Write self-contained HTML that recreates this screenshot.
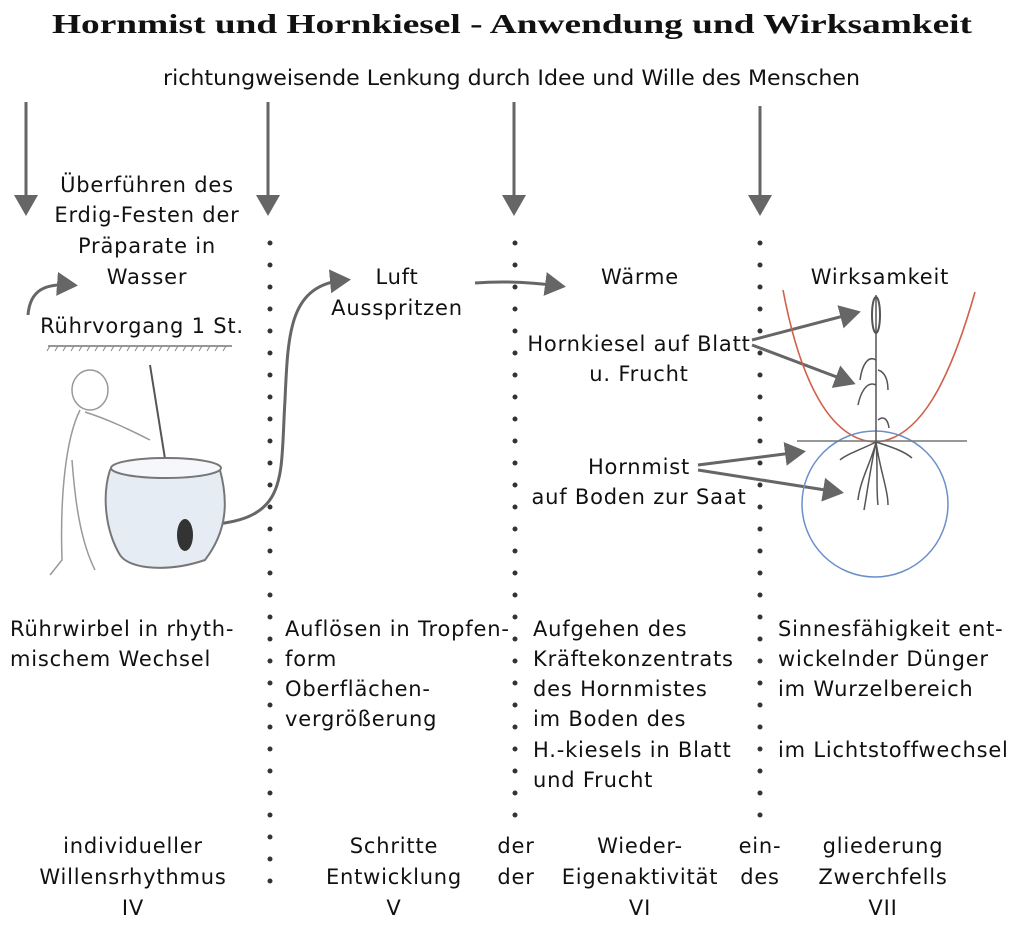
<!DOCTYPE html>
<html><head><meta charset="utf-8"><style>
body{margin:0;background:#fff}
svg{display:block}
text{font-family:"DejaVu Sans","Liberation Sans",sans-serif;font-size:21px;fill:#111;letter-spacing:0.8px}
.t{font-family:"Liberation Serif",serif;font-weight:bold;font-size:27px;letter-spacing:0}
</style></head><body>
<svg width="1018" height="952" viewBox="0 0 1018 952" xmlns="http://www.w3.org/2000/svg">
<defs>
<marker id="ah" markerWidth="8" markerHeight="8" refX="5" refY="4" orient="auto" markerUnits="strokeWidth">
<path d="M0,0 L7,4 L0,8 Z" fill="#666"/></marker>
</defs>
<text class="t" x="52" y="33" textLength="920" lengthAdjust="spacingAndGlyphs">Hornmist und Hornkiesel - Anwendung und Wirksamkeit</text>
<text x="163" y="85" textLength="697" lengthAdjust="spacingAndGlyphs" style="letter-spacing:0">richtungweisende Lenkung durch Idee und Wille des Menschen</text>
<g stroke="#666" stroke-width="3" fill="none" marker-end="url(#ah)">
<line x1="26" y1="102" x2="26" y2="210"/>
<line x1="268" y1="102" x2="268" y2="210"/>
<line x1="514" y1="102" x2="514" y2="210"/>
<line x1="760" y1="106" x2="760" y2="210"/>
<path d="M28,315 C30,290 45,283 72,285"/>
<path d="M205,525 C290,520 280,480 285,400 C288,330 290,285 345,280"/>
<path d="M475,283 C500,281 530,282 560,286"/>
<line x1="752" y1="340" x2="855" y2="313"/>
<line x1="752" y1="345" x2="850" y2="382"/>
<line x1="698" y1="465" x2="800" y2="452"/>
<line x1="698" y1="470" x2="838" y2="492"/>
</g>
<g stroke="#333" stroke-width="5" stroke-linecap="round" stroke-dasharray="0 22">
<line x1="270" y1="243" x2="270" y2="885"/>
<line x1="515" y1="243" x2="515" y2="820"/>
<line x1="760" y1="243" x2="760" y2="820"/>
</g>
<g text-anchor="middle">
<text x="147" y="192">Überführen des</text>
<text x="147" y="222">Erdig-Festen der</text>
<text x="147" y="253">Präparate in</text>
<text x="147" y="284">Wasser</text>
<text x="142" y="333">Rührvorgang 1 St.</text>
<text x="397" y="284">Luft</text>
<text x="397" y="315">Ausspritzen</text>
<text x="640" y="284">Wärme</text>
<text x="880" y="284">Wirksamkeit</text>
<text x="639" y="351">Hornkiesel auf Blatt</text>
<text x="639" y="381">u. Frucht</text>
<text x="639" y="474">Hornmist</text>
<text x="639" y="504">auf Boden zur Saat</text>
</g>
<line x1="48" y1="346" x2="232" y2="346" stroke="#777" stroke-width="1.5"/>
<path d="M50,346 l-3,5 M58,346 l-3,5 M66,346 l-3,5 M74,346 l-3,5 M82,346 l-3,5 M90,346 l-3,5 M98,346 l-3,5 M106,346 l-3,5 M114,346 l-3,5 M122,346 l-3,5 M130,346 l-3,5 M138,346 l-3,5 M146,346 l-3,5 M154,346 l-3,5 M162,346 l-3,5 M170,346 l-3,5 M178,346 l-3,5 M186,346 l-3,5 M194,346 l-3,5 M202,346 l-3,5 M210,346 l-3,5 M218,346 l-3,5 M226,346 l-3,5" stroke="#888" stroke-width="1"/>
<g stroke="#999" fill="none" stroke-width="1.5">
<ellipse cx="90" cy="390" rx="18" ry="20"/>
<path d="M80,410 C65,440 60,500 62,560 L50,575 M85,412 C110,420 130,430 150,440 M72,460 C75,500 80,540 95,570"/>
<line x1="150" y1="365" x2="178" y2="540" stroke="#555" stroke-width="2"/>
</g>
<path d="M110,470 C115,460 215,460 220,470 C228,500 228,530 205,560 C170,572 130,570 120,555 C105,530 102,495 110,470 Z" fill="#e6ecf4" stroke="#777" stroke-width="2"/>
<ellipse cx="166" cy="468" rx="55" ry="10" fill="#f5f7fa" stroke="#777" stroke-width="2"/>
<ellipse cx="185" cy="535" rx="8" ry="16" fill="#333"/>
<path d="M783,290 C800,380 830,440 875,442 C920,440 950,380 975,292" fill="none" stroke="#d0604a" stroke-width="1.6"/>
<circle cx="875" cy="504" r="73" fill="none" stroke="#6b8fc8" stroke-width="1.5"/>
<line x1="797" y1="441" x2="967" y2="441" stroke="#777" stroke-width="1.5"/>
<g stroke="#555" fill="none" stroke-width="1.5">
<line x1="876" y1="295" x2="876" y2="442"/>
<ellipse cx="876" cy="315" rx="4" ry="18" stroke-width="2"/>
<path d="M876,360 C868,355 862,365 860,380 M876,385 C866,380 860,395 858,405 M878,370 C885,372 888,380 888,390 M878,420 C884,415 888,420 889,428"/>
<path d="M876,442 C870,470 866,500 864,510 M876,442 C880,470 888,490 888,505 M876,442 C872,460 860,480 858,500 M876,442 C878,465 876,490 878,505 M876,442 C860,450 845,455 840,460 M876,442 C895,448 905,452 912,458"/>
</g>
<g>
<text x="10" y="636">Rührwirbel in rhyth-</text>
<text x="10" y="666">mischem Wechsel</text>
<text x="285" y="636">Auflösen in Tropfen-</text>
<text x="285" y="666">form</text>
<text x="285" y="696">Oberflächen-</text>
<text x="285" y="726">vergrößerung</text>
<text x="533" y="636">Aufgehen des</text>
<text x="533" y="666">Kräftekonzentrats</text>
<text x="533" y="696">des Hornmistes</text>
<text x="533" y="726">im Boden des</text>
<text x="533" y="757">H.-kiesels in Blatt</text>
<text x="533" y="787">und Frucht</text>
<text x="778" y="636">Sinnesfähigkeit ent-</text>
<text x="778" y="666">wickelnder Dünger</text>
<text x="778" y="696">im Wurzelbereich</text>
<text x="778" y="757">im Lichtstoffwechsel</text>
</g>
<g text-anchor="middle">
<text x="133" y="853">individueller</text>
<text x="133" y="884">Willensrhythmus</text>
<text x="133" y="915">IV</text>
<text x="394" y="853">Schritte</text>
<text x="394" y="884">Entwicklung</text>
<text x="394" y="915">V</text>
<text x="516" y="853">der</text>
<text x="516" y="884">der</text>
<text x="640" y="853">Wieder-</text>
<text x="640" y="884">Eigenaktivität</text>
<text x="640" y="915">VI</text>
<text x="760" y="853">ein-</text>
<text x="760" y="884">des</text>
<text x="883" y="853">gliederung</text>
<text x="883" y="884">Zwerchfells</text>
<text x="883" y="915">VII</text>
</g>
</svg>
</body></html>
